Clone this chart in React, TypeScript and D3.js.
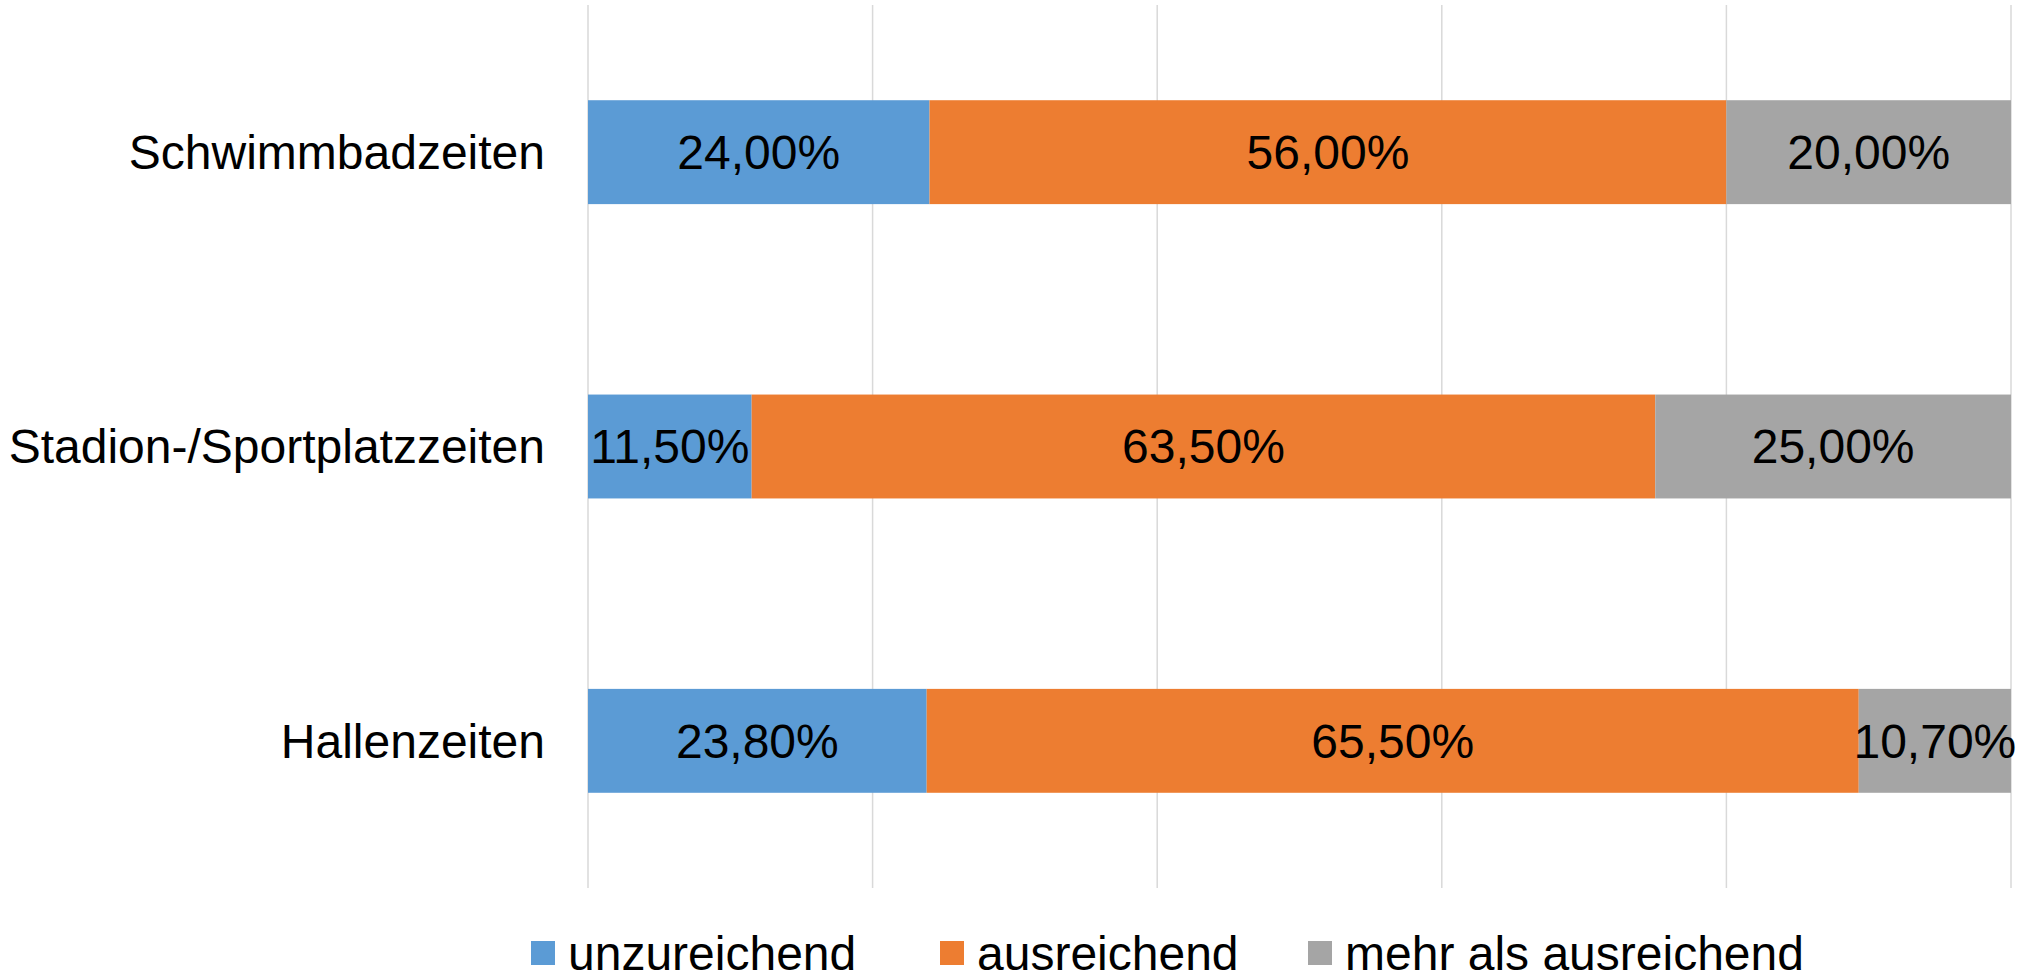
import React from 'react';
import * as d3 from 'd3';

// categories top to bottom
const categories = ['Schwimmbadzeiten', 'Stadion-/Sportplatzzeiten', 'Hallenzeiten'];
const seriesNames = ['unzureichend', 'ausreichend', 'mehr als ausreichend'];
const unzureichend = [24.0, 11.5, 23.8];
const ausreichend = [56.0, 63.5, 65.5];
const mehrAls = [20.0, 25.0, 10.7];
const xTicks = [0, 20, 40, 60, 80, 100];

const colors = ['#5B9BD5', '#ED7D31', '#A5A5A5'];
const W = 2021;
const H = 972;
const font = 'Liberation Sans, Arial, sans-serif';

export default function App() {
  const x = d3.scaleLinear().domain([0, 100]).range([588, 2011]);
  const y = d3.scaleBand<string>()
    .domain(categories)
    .range([5, 888])
    .paddingInner(0.647)
    .paddingOuter(0.3235);

  const rows = categories.map((c, i) => ({
    cat: c,
    unzureichend: unzureichend[i],
    ausreichend: ausreichend[i],
    mehr: mehrAls[i],
  }));
  const stack = d3.stack<any>().keys(['unzureichend', 'ausreichend', 'mehr'])(rows);
  const fmt = (v: number) => v.toFixed(2).replace('.', ',') + '%';

  const legendX = [531, 940, 1308];

  return (
    <svg width={W} height={H} style={{ position: 'absolute', left: 0, top: 0, background: '#fff' }}>
      {xTicks.map(t => (
        <line key={t} x1={x(t)} x2={x(t)} y1={5} y2={888} stroke="#D9D9D9" strokeWidth={1.5} />
      ))}
      {stack.map((layer, si) => (
        <g key={si} fill={colors[si]}>
          {layer.map((d, i) => (
            <rect key={i} x={x(d[0])} y={y(categories[i])} width={x(d[1]) - x(d[0])} height={y.bandwidth()} />
          ))}
        </g>
      ))}
      {stack.map((layer, si) => (
        <g key={'l' + si} fontFamily={font} fontSize={48} fill="#000" textAnchor="middle">
          {layer.map((d, i) => (
            <text key={i} x={(x(d[0]) + x(d[1])) / 2} y={(y(categories[i]) as number) + y.bandwidth() / 2} dy="0.35em">
              {fmt(d[1] - d[0])}
            </text>
          ))}
        </g>
      ))}
      <g fontFamily={font} fontSize={48} fill="#000" textAnchor="end">
        {categories.map(c => (
          <text key={c} x={545} y={(y(c) as number) + y.bandwidth() / 2} dy="0.35em">{c}</text>
        ))}
      </g>
      <g fontFamily={font} fontSize={48} fill="#000">
        {seriesNames.map((s, i) => (
          <g key={s}>
            <rect x={legendX[i]} y={941} width={24} height={24} fill={colors[i]} />
            <text x={legendX[i] + 37} y={953} dy="0.35em">{s}</text>
          </g>
        ))}
      </g>
    </svg>
  );
}
